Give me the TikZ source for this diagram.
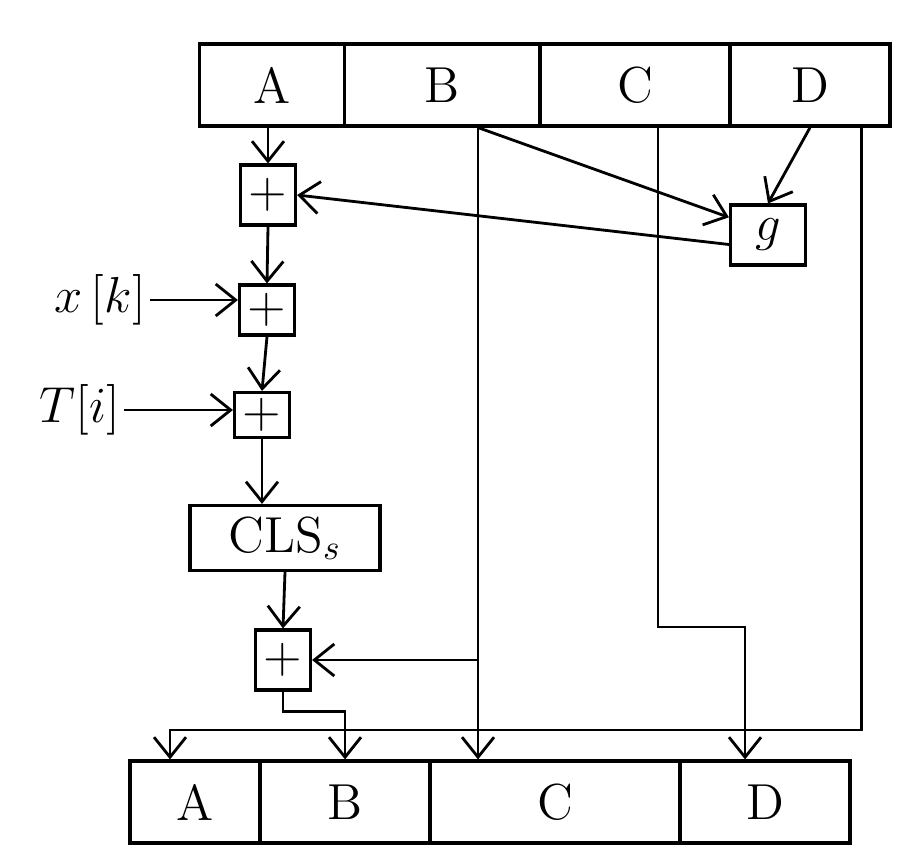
\documentclass[tikz,border=0pt]{standalone}
\usepackage{tikz}
\usetikzlibrary{arrows.meta,positioning,calc}

\begin{document}
\begin{tikzpicture}[y=-1cm,
  reg/.style={draw,line width=0.9pt,minimum height=0.82cm,inner sep=0pt,font=\Large},
  addbox/.style={draw,line width=0.9pt,minimum width=0.55cm,minimum height=#1,inner sep=0pt,font=\Large},
  addbox/.default=0.55cm,
  arr/.style={-{Straight Barb[length=2mm,width=3.2mm]},line width=0.8pt},
  lbl/.style={font=\Large,inner sep=1pt}]
\useasboundingbox (0,0) rectangle (9.06,8.65);
% input register
\node[reg,minimum width=1.45cm] (A1) at (2.72,0.85) {A};
\node[reg,minimum width=1.95cm] (B1) at (4.42,0.85) {B};
\node[reg,minimum width=1.90cm] (C1) at (6.35,0.85) {C};
\node[reg,minimum width=1.60cm] (D1) at (8.10,0.85) {D};
% output register
\node[reg,minimum width=1.30cm] (A2) at (1.95,8.02) {A};
\node[reg,minimum width=1.70cm] (B2) at (3.45,8.02) {B};
\node[reg,minimum width=2.50cm] (C2) at (5.55,8.02) {C};
\node[reg,minimum width=1.70cm] (D2) at (7.65,8.02) {D};
% adders and functions
\node[addbox=0.6cm] (add1) at (2.68,1.95) {$+$};
\node[addbox=0.5cm] (add2) at (2.67,3.10) {$+$};
\node[addbox=0.45cm] (add3) at (2.62,4.15) {$+$};
\node[addbox=0.65cm,minimum width=1.9cm] (cls) at (2.85,5.38) {CLS$_s$};
\node[addbox=0.6cm] (add5) at (2.83,6.60) {$+$};
\node[addbox=0.6cm,minimum width=0.75cm] (g) at (7.68,2.35) {$g$};
\node[lbl] (xk) at (1.00,3.00) {$x\,[k]$};
\node[lbl] (ti) at (0.80,4.10) {$T[i]$};
\coordinate (bB) at ($(B1.south)+(0.36,0)$);
\coordinate (cC) at ($(C1.south)+(0.23,0)$);
\coordinate (dD) at ($(D1.south east)+(-0.30,0)$);
\coordinate (cturn) at (7.45,6.27);
\coordinate (aturn) at (1.70,7.30);
% main chain
\draw[arr] (A1.south -| add1.north) -- (add1.north);
\draw[arr] (add1.south) -- (add2.north);
\draw[arr] (add2.south) -- (add3.north);
\draw[arr] (add3.south) -- (add3.south |- cls.north);
\draw[arr] (cls.south) -- (add5.north);
\draw[arr] (xk.east) -- (xk.east -| add2.west);
\draw[arr] (ti.east) -- (ti.east -| add3.west);
\draw[arr] (add5.south) -- ++(0,0.2) -| (B2.north);
% g and its inputs
\draw[arr] (bB) -- ($(g.north west)!0.22!(g.south west)$);
\draw[arr] (D1.south) -- (g.north);
\draw[arr] ($(g.north west)!0.65!(g.south west)$) -- (add1.east);
% words moved on
\draw[arr] (bB) -- (bB |- C2.north);
\draw[arr] (bB |- add5.east) -- (add5.east);
\draw[arr] (cC) |- (cturn) -- (cturn |- D2.north);
\draw[arr] (dD) |- (aturn) -- (aturn |- A2.north);
\end{tikzpicture}
\end{document}
